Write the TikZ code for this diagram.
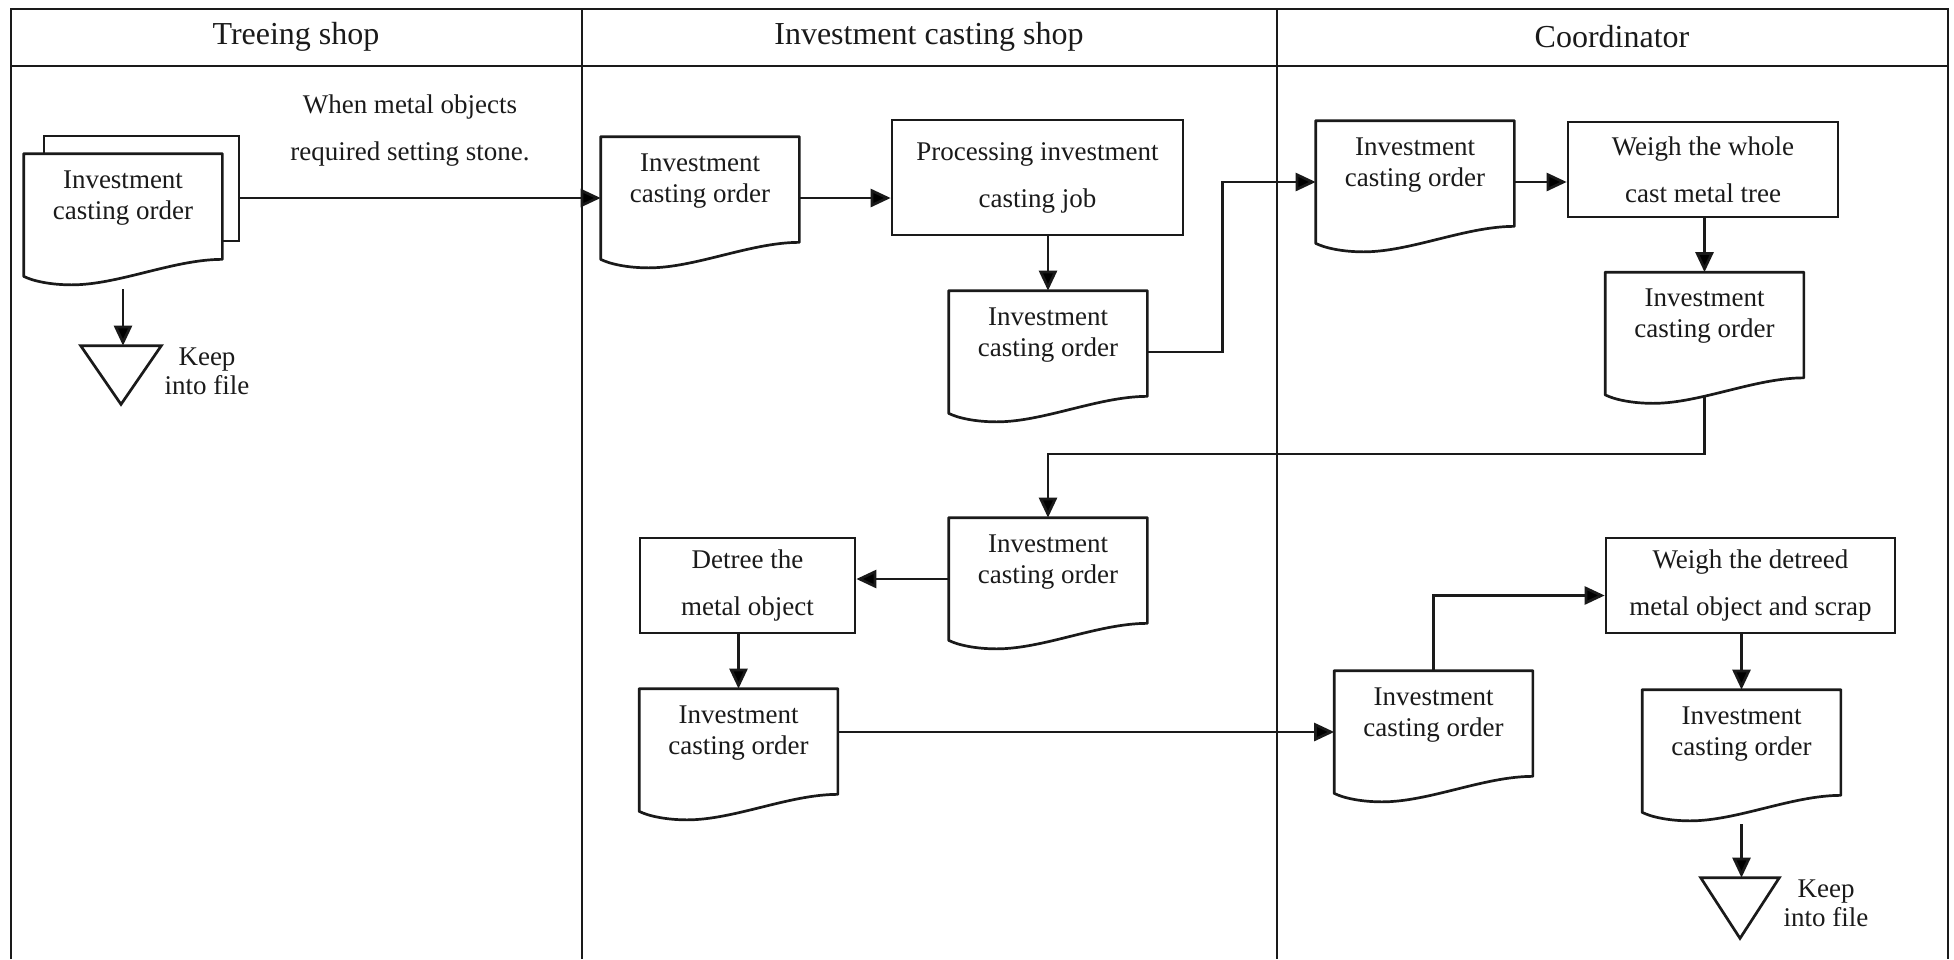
\documentclass[tikz,border=0pt]{standalone}
\usepackage{fontspec}
\setmainfont{Liberation Serif}
\usetikzlibrary{arrows.meta,calc,backgrounds}
\definecolor{ink}{HTML}{1A1A1A}

% Document symbol: flat top, wavy bottom (right end higher than left end)
\newcommand\docoutline[1]{%
  \draw[outline, fill=white, line join=round]
    (#1.north west) -- (#1.north east)
    -- ($(#1.south east)+(0,-17)$)
    .. controls ($(#1.south west)+(150,-17)$) and ($(#1.south west)+(95,8.5)$)
    .. ($(#1.south west)+(48,8.5)$)
    .. controls ($(#1.south west)+(28,8.5)$) and ($(#1.south west)+(10,5)$)
    .. (#1.south west) -- cycle;}

% File (storage) symbol: inverted triangle
\newcommand\fileoutline[1]{%
  \draw[outline, fill=white, line join=miter]
    (#1.north west) -- (#1.north east) -- (#1.south) -- cycle;}

\begin{document}
\begin{tikzpicture}[x=1pt, y=-1pt, color=ink, line width=2.7pt,
  outline/.style={draw=ink, line width=2.7pt},
  flow/.style={draw=ink, line width=2.7pt, -{Triangle[length=20pt,width=18pt]}},
  docnode/.style={inner sep=0pt, minimum width=196pt, minimum height=120pt},
  procbox/.style={outline, fill=white, inner sep=0pt, align=center,
    font=\fontsize{27}{47}\selectfont},
  filenode/.style={inner sep=0pt},
  doctext/.style={inner sep=0pt, align=center, font=\fontsize{27}{31}\selectfont},
  notetext/.style={inner sep=0pt, align=center, font=\fontsize{27}{29}\selectfont},
  edgetext/.style={inner sep=0pt, align=center, font=\fontsize{27}{47}\selectfont},
  headtext/.style={inner sep=0pt, font=\fontsize{32}{38}\selectfont}]

\useasboundingbox (0,0) rectangle (1954,959);

% ---------- swimlane frame (open at the bottom edge) ----------
\draw[outline] (11,959) -- (11,9) -- (1948,9) -- (1948,959);
\draw[outline] (11,66) -- (1948,66);
\draw[outline] (582,9) -- (582,959);
\draw[outline] (1277,9) -- (1277,959);

\node[headtext] (h1) at (296,37) {Treeing shop};
\node[headtext] (h2) at (929,37) {Investment casting shop};
\node[headtext] (h3) at (1612,37) {Coordinator};

% ---------- Treeing shop ----------
\node[outline, fill=white, inner sep=0pt, minimum width=195pt, minimum height=105pt] (tback) at (141.5,188.5) {};
\node[docnode] (t1) at (123,215) {};
\docoutline{t1}
\node[doctext] (t1t) at ([yshift=17pt]t1.center) {Investment\\casting order};

\node[filenode, minimum width=78pt, minimum height=56pt] (k1) at (121,375) {};
\fileoutline{k1}
\node[notetext] (k1t) at (207,371) {Keep\\into file};

\node[edgetext] (lbl) at (410,130.5) {When metal objects\\required setting stone.};

% ---------- Investment casting shop ----------
\node[docnode] (i1) at (700,198) {};
\docoutline{i1}
\node[doctext] (i1t) at ([yshift=17pt]i1.center) {Investment\\casting order};

\node[procbox, minimum width=291pt, minimum height=115pt] (ib1) at (1037.5,177.5) {Processing investment\\casting job};

\node[docnode] (i2) at (1048,352) {};
\docoutline{i2}
\node[doctext] (i2t) at ([yshift=17pt]i2.center) {Investment\\casting order};

\node[docnode] (i3) at (1048,579) {};
\docoutline{i3}
\node[doctext] (i3t) at ([yshift=17pt]i3.center) {Investment\\casting order};

\node[procbox, minimum width=215pt, minimum height=95pt] (db) at (747.5,585.5) {Detree the\\metal object};

\node[docnode] (i4) at (738.5,750) {};
\docoutline{i4}
\node[doctext] (i4t) at ([yshift=17pt]i4.center) {Investment\\casting order};

% ---------- Coordinator ----------
\node[docnode] (c1) at (1415,182) {};
\docoutline{c1}
\node[doctext] (c1t) at ([yshift=17pt]c1.center) {Investment\\casting order};

\node[procbox, minimum width=270pt, minimum height=95pt] (cb1) at (1703,169.5) {Weigh the whole\\cast metal tree};

\node[docnode] (c2) at (1704.5,333.5) {};
\docoutline{c2}
\node[doctext] (c2t) at ([yshift=17pt]c2.center) {Investment\\casting order};

\node[docnode] (c3) at (1433.5,732) {};
\docoutline{c3}
\node[doctext] (c3t) at ([yshift=17pt]c3.center) {Investment\\casting order};

\node[procbox, minimum width=289pt, minimum height=95pt] (cb2) at (1750.5,585.5) {Weigh the detreed\\metal object and scrap};

\node[docnode] (c4) at (1741.5,751) {};
\docoutline{c4}
\node[doctext] (c4t) at ([yshift=17pt]c4.center) {Investment\\casting order};

\node[filenode, minimum width=76pt, minimum height=58pt] (k2) at (1740,908) {};
\fileoutline{k2}
\node[notetext] (k2t) at (1826,903) {Keep\\into file};

% ---------- connectors ----------
\begin{pgfonlayer}{background}
  \draw[flow] (tback.east |- i1.west) -- (i1.west);
  \draw[flow] ([yshift=-13pt]t1.south) -- (t1.south |- k1.north);
  \draw[flow] (i1.east) -- (i1.east -| ib1.west);
  \draw[flow] (ib1.south -| i2.north) -- (i2.north);
  \draw[flow] (i2.east) -- ++(75,0) |- (c1.west);
  \draw[flow] (c1.east) -- (c1.east -| cb1.west);
  \draw[flow] (cb1.south -| c2.north) -- (c2.north);
  \draw[flow] ([yshift=5pt]c2.south) -- ++(0,-5) -- ++(0,69) -| (i3.north);
  \draw[flow] (i3.west) -- (i3.west -| db.east);
  \draw[flow] (db.south -| i4.north) -- (i4.north);
  \draw[flow] (i4.east |- c3.west) -- (c3.west);
  \draw[flow] (c3.north) |- ([yshift=-10pt]cb2.west);
  \draw[flow] (cb2.south -| c4.north) -- (c4.north);
  \draw[flow] ([yshift=-12pt]c4.south) -- (c4.south |- k2.north);
\end{pgfonlayer}

\end{tikzpicture}
\end{document}
